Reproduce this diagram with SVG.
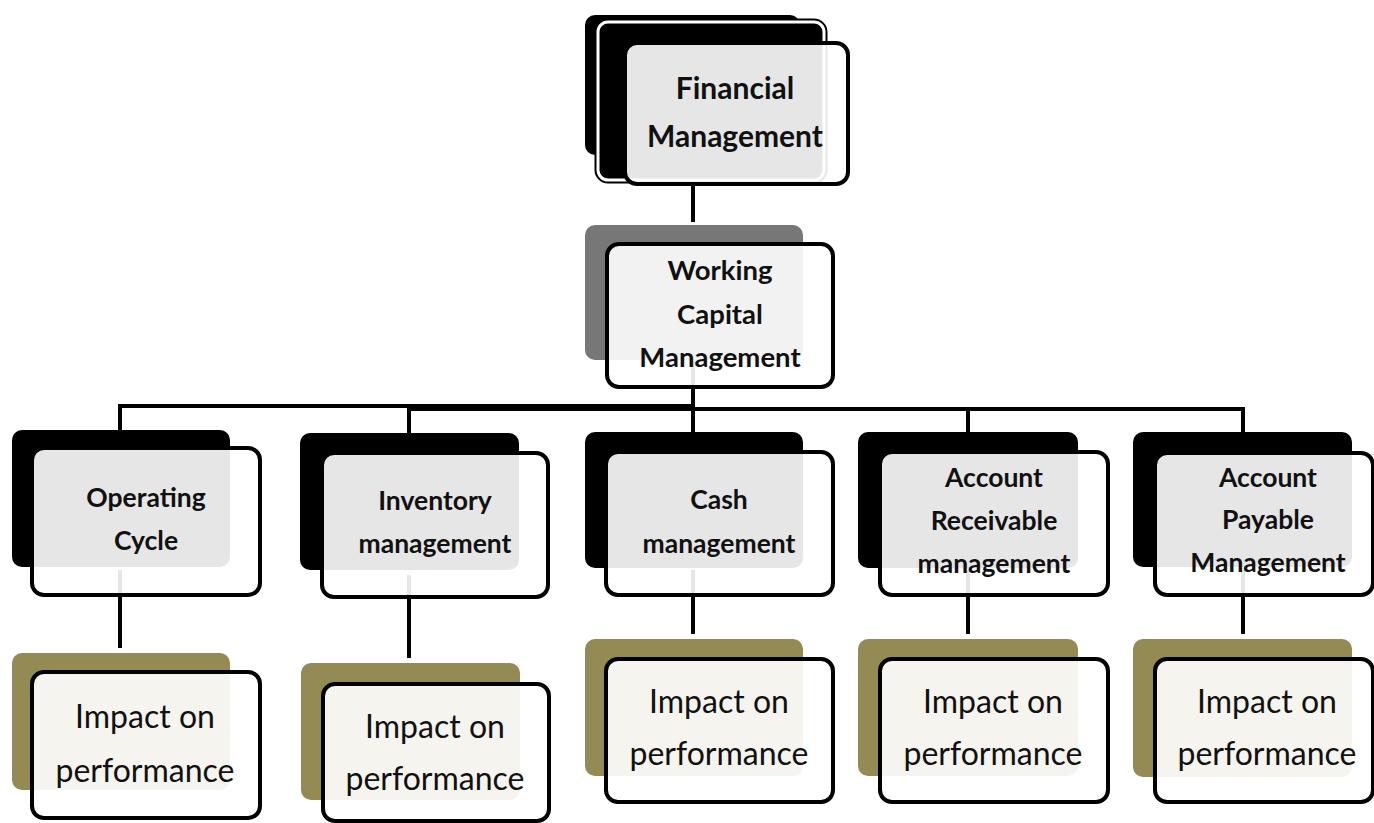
<svg xmlns="http://www.w3.org/2000/svg" width="1374" height="823" viewBox="0 0 1374 823">
<style>
.bg{fill:#ffffff}
.blk{fill:#000000}
.gry{fill:#777777}
.olv{fill:#948a54}
.front{fill:#ffffff;fill-opacity:0.9;stroke:#000000;stroke-width:4}
.ln{fill:none;stroke:#000000;stroke-width:4}
.b{font-family:Lato,"Liberation Sans",sans-serif;font-weight:bold;font-size:26.5px;fill:#111111;text-anchor:middle}
.bw{font-family:Lato,"Liberation Sans",sans-serif;font-weight:bold;font-size:27.5px;fill:#111111;text-anchor:middle}
.bl{font-family:Lato,"Liberation Sans",sans-serif;font-weight:bold;font-size:30px;fill:#111111;text-anchor:middle}
.r{font-family:Lato,"Liberation Sans",sans-serif;font-size:32px;fill:#111111;text-anchor:middle}
</style>
<rect class="bg" x="0" y="0" width="1374" height="823"/>
<g id="connectors">
<path class="ln" d="M693,160 V222"/>
<path class="ln" d="M693,360 V432"/>
<path class="ln" d="M120,432 V406 H693"/>
<path class="ln" d="M409,434 V409 H1243 V433"/>
<path class="ln" d="M968,409 V433"/>
<path class="ln" d="M120,570 V648"/>
<path class="ln" d="M409,575 V658"/>
<path class="ln" d="M693,570 V634"/>
<path class="ln" d="M968,570 V634"/>
<path class="ln" d="M1243,570 V634"/>
</g>
<g id="financial-management">
<rect class="blk" x="585" y="15" width="215" height="140" rx="10"/>
<rect x="598" y="22" width="226" height="158" rx="10" fill="#000" stroke="#000" stroke-width="7"/>
<rect x="598" y="22" width="226" height="158" rx="10" fill="#000" stroke="#fff" stroke-width="3"/>
<rect class="front" x="625" y="43" width="223" height="141" rx="12"/>
<text class="bl" x="735" y="99">Financial</text>
<text class="bl" x="735" y="147">Management</text>
</g>
<g id="working-capital-management">
<rect class="gry" x="585" y="225" width="218" height="135" rx="10"/>
<rect class="front" x="607" y="244" width="226" height="143" rx="12"/>
<text class="bw" x="720" y="280">Working</text>
<text class="bw" x="720" y="324">Capital</text>
<text class="bw" x="720" y="367">Management</text>
</g>
<g id="operating-cycle">
<rect class="blk" x="12" y="430" width="218" height="137" rx="10"/>
<rect class="front" x="32" y="448" width="228" height="147" rx="12"/>
<text class="b" x="146" y="507">Operating</text>
<text class="b" x="146" y="550">Cycle</text>
</g>
<g id="inventory-management">
<rect class="blk" x="300" y="433" width="219" height="137" rx="10"/>
<rect class="front" x="322" y="453" width="226" height="144" rx="12"/>
<text class="b" x="435" y="510">Inventory</text>
<text class="b" x="435" y="553">management</text>
</g>
<g id="cash-management">
<rect class="blk" x="585" y="432" width="218" height="136" rx="10"/>
<rect class="front" x="606" y="452" width="227" height="143" rx="12"/>
<text class="b" x="719" y="509">Cash</text>
<text class="b" x="719" y="553">management</text>
</g>
<g id="account-receivable-management">
<rect class="blk" x="858" y="432" width="220" height="136" rx="10"/>
<rect class="front" x="880" y="452" width="228" height="143" rx="12"/>
<text class="b" x="994" y="487">Account</text>
<text class="b" x="994" y="530">Receivable</text>
<text class="b" x="994" y="573">management</text>
</g>
<g id="account-payable-management">
<rect class="blk" x="1133" y="432" width="219" height="135" rx="10"/>
<rect class="front" x="1155" y="453" width="218" height="142" rx="12"/>
<text class="b" x="1268" y="487">Account</text>
<text class="b" x="1268" y="529">Payable</text>
<text class="b" x="1268" y="572">Management</text>
</g>
<g id="impact-1">
<rect class="olv" x="12" y="653" width="218" height="137" rx="10"/>
<rect class="front" x="32" y="672" width="228" height="146" rx="12"/>
<text class="r" x="145" y="728">Impact on</text>
<text class="r" x="145" y="782">performance</text>
</g>
<g id="impact-2">
<rect class="olv" x="301" y="663" width="219" height="137" rx="10"/>
<rect class="front" x="323" y="684" width="226" height="137" rx="12"/>
<text class="r" x="435" y="738">Impact on</text>
<text class="r" x="435" y="790">performance</text>
</g>
<g id="impact-3">
<rect class="olv" x="585" y="639" width="218" height="137" rx="10"/>
<rect class="front" x="606" y="659" width="227" height="143" rx="12"/>
<text class="r" x="719" y="713">Impact on</text>
<text class="r" x="719" y="765">performance</text>
</g>
<g id="impact-4">
<rect class="olv" x="858" y="639" width="220" height="137" rx="10"/>
<rect class="front" x="880" y="659" width="228" height="143" rx="12"/>
<text class="r" x="993" y="713">Impact on</text>
<text class="r" x="993" y="765">performance</text>
</g>
<g id="impact-5">
<rect class="olv" x="1133" y="639" width="219" height="138" rx="10"/>
<rect class="front" x="1155" y="659" width="218" height="143" rx="12"/>
<text class="r" x="1267" y="713">Impact on</text>
<text class="r" x="1267" y="765">performance</text>
</g>
</svg>
